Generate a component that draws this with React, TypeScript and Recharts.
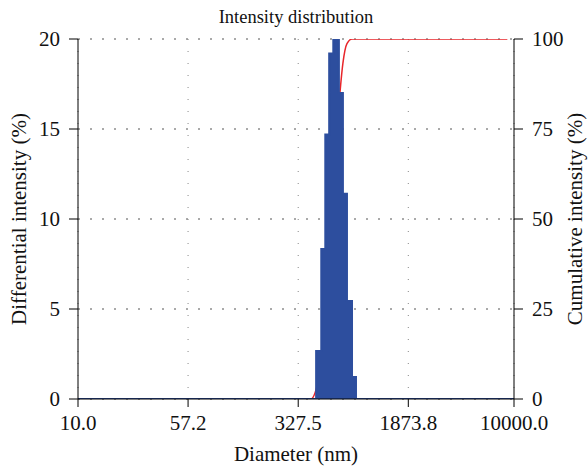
import {
  ComposedChart,
  Area,
  XAxis,
  YAxis,
  CartesianGrid,
} from "recharts";

// histogram bins (left edge, nm) and differential intensity (%)
const binEdges = [10, 435, 472, 503, 535, 571, 624, 665, 709, 768, 818, 10000];
const intensity = [0, 2.67, 8.33, 14.7, 19.2, 20.04, 17.0, 11.4, 5.44, 1.22, 0, 0];

// cumulative intensity (%)
const cumDiameters = [10, 400, 435, 472, 503, 535, 571, 624, 665, 709, 768, 9000];
const cumulative = [0, 0, 2.67, 11, 25.7, 44.9, 64.9, 81.9, 93.3, 98.7, 100, 100];

const xTicks = [10, 57.2, 327.5, 1873.8, 10000];
const leftTicks = [0, 5, 10, 15, 20];
const rightTicks = [0, 25, 50, 75, 100];

const histData = binEdges.map((d, i) => ({ d, v: intensity[i] }));
const cumData = cumDiameters.map((d, i) => ({ d, c: cumulative[i] }));

const FONT = "'Liberation Serif', 'Times New Roman', serif";
const tickStyle = { fill: "#111", fontSize: 21, fontFamily: FONT };
const labelStyle = { fill: "#111", fontSize: 21, fontFamily: FONT };
const BLUE = "#2d4e9e";
const RED = "#e8262b";

export default function App() {
  return (
    <div style={{ position: "fixed", left: 0, top: 0, width: 588, height: 470, background: "#fff" }}>
      <div
        style={{
          position: "absolute",
          left: 0,
          width: 592,
          top: 6,
          textAlign: "center",
          fontFamily: FONT,
          fontSize: 18.5,
          lineHeight: "22px",
          color: "#111",
        }}
      >
        Intensity distribution
      </div>
      <ComposedChart width={588} height={470} margin={{ top: 39, right: 0, bottom: 0, left: 0 }}>
        <CartesianGrid
          xAxisId="x"
          yAxisId="left"
          vertical={false}
          stroke="#555"
          strokeDasharray="2 10"
        />
        <CartesianGrid
          xAxisId="x"
          yAxisId="left"
          horizontal={false}
          stroke="#888"
          strokeDasharray="1 11"
        />
        <XAxis
          xAxisId="x"
          dataKey="d"
          type="number"
          scale="log"
          domain={[10, 10000]}
          allowDataOverflow
          ticks={xTicks}
          interval={0}
          tickFormatter={(v: number) => v.toFixed(1)}
          tick={tickStyle}
          tickSize={8}
          tickMargin={8}
          height={71}
          stroke="#000"
          label={{ value: "Diameter (nm)", position: "insideBottom", offset: 9, style: labelStyle }}
        />
        <XAxis
          xAxisId="top"
          orientation="top"
          dataKey="d"
          type="number"
          scale="log"
          domain={[10, 10000]}
          allowDataOverflow
          tick={false}
          tickLine={false}
          height={0}
          stroke="#000"
        />
        <YAxis
          yAxisId="left"
          domain={[0, 20]}
          ticks={leftTicks}
          allowDataOverflow
          width={78}
          tick={tickStyle}
          tickSize={9}
          tickMargin={9}
          stroke="#000"
          label={{
            value: "Differential intensity (%)",
            angle: -90,
            position: "insideLeft",
            offset: 19,
            style: { ...labelStyle, textAnchor: "middle" },
          }}
        />
        <YAxis
          yAxisId="right"
          orientation="right"
          domain={[0, 100]}
          ticks={rightTicks}
          allowDataOverflow
          width={74}
          tick={tickStyle}
          tickSize={9}
          tickMargin={9}
          stroke="#000"
          label={{
            value: "Cumulative intensity (%)",
            angle: -90,
            position: "insideRight",
            offset: 13,
            style: { ...labelStyle, textAnchor: "middle" },
          }}
        />
        <Area
          xAxisId="x"
          yAxisId="right"
          data={cumData}
          dataKey="c"
          type="monotone"
          stroke={RED}
          strokeWidth={1.5}
          fill="none"
          fillOpacity={0}
          dot={false}
          activeDot={false}
          isAnimationActive={false}
        />
        <Area
          xAxisId="x"
          yAxisId="left"
          data={histData}
          dataKey="v"
          type="stepAfter"
          stroke={BLUE}
          strokeWidth={2}
          fill={BLUE}
          fillOpacity={1}
          dot={false}
          activeDot={false}
          isAnimationActive={false}
        />
      </ComposedChart>
    </div>
  );
}
